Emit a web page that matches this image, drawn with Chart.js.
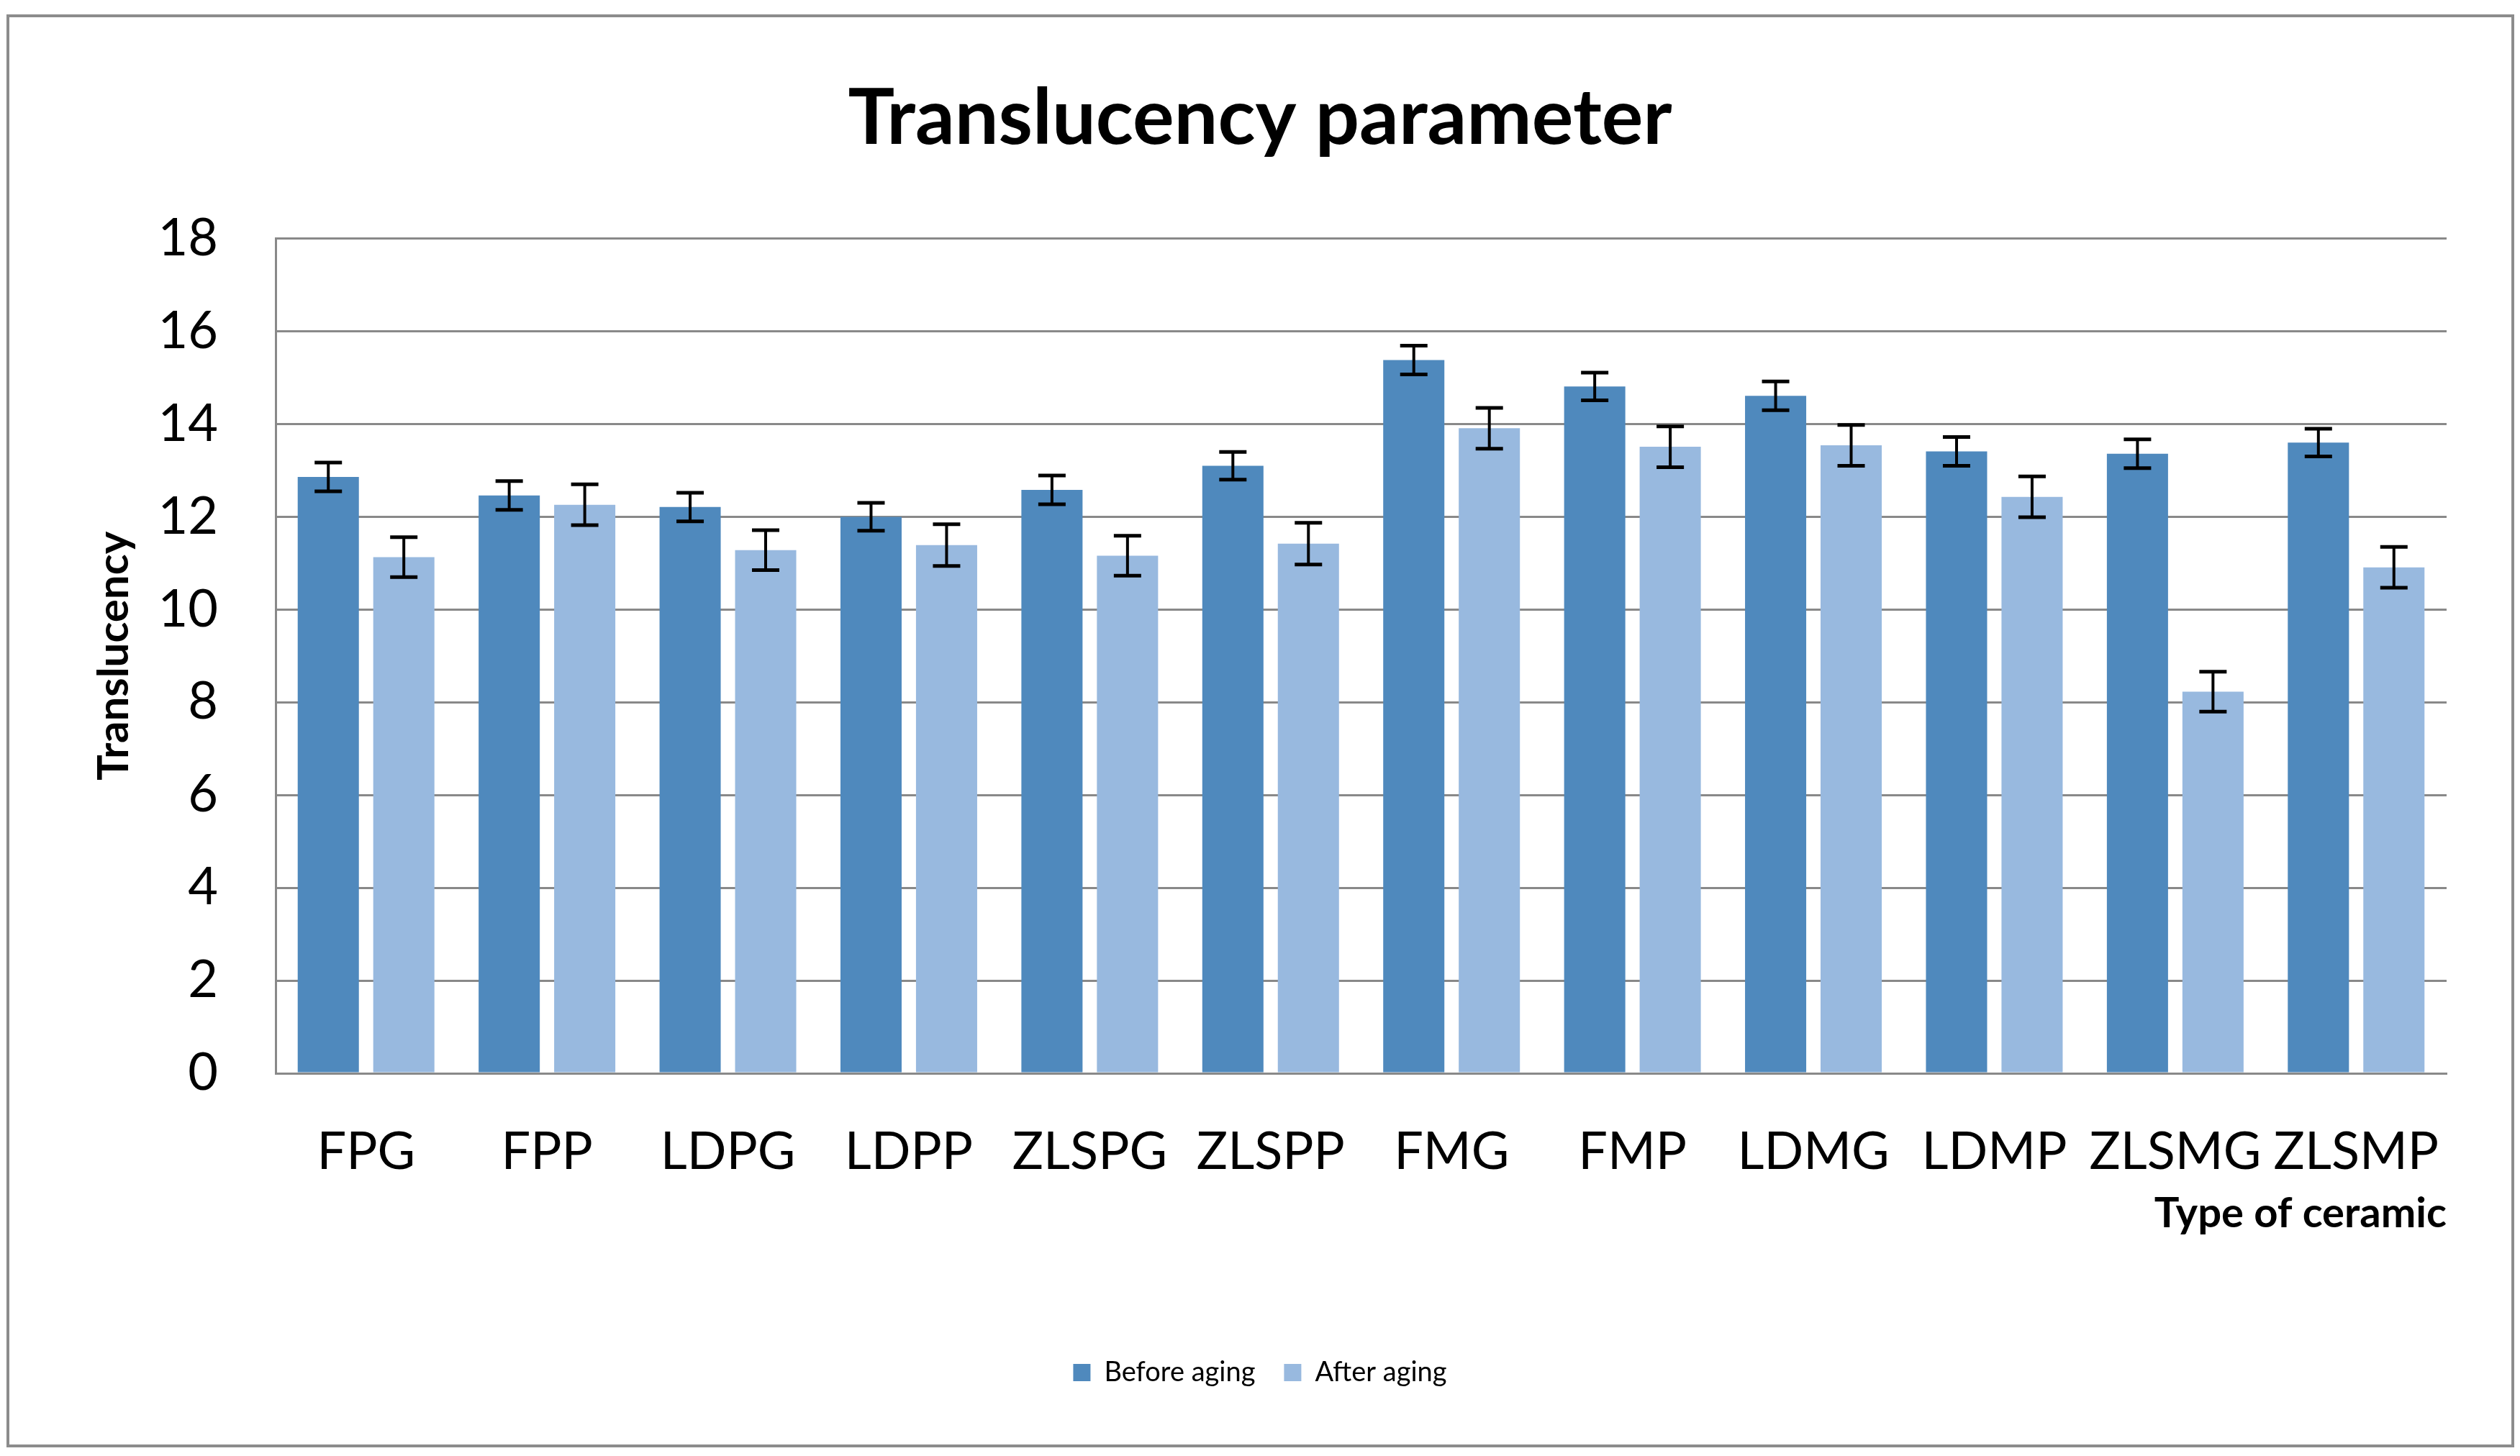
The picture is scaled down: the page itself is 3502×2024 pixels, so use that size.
<!DOCTYPE html>
<html>
<head>
<meta charset="utf-8">
<script src="https://cdn.jsdelivr.net/npm/chart.js@4.4.1/dist/chart.umd.min.js"></script>
<style>
  html, body { margin: 0; padding: 0; background: #ffffff; }
  #wrap { width: 3502px; height: 2024px; }
</style>
</head>
<body>
<div id="wrap"><canvas id="c" width="3502" height="2024"></canvas></div>
<script>
const categories = ["FPG", "FPP", "LDPG", "LDPP", "ZLSPG", "ZLSPP", "FMG", "FMP", "LDMG", "LDMP", "ZLSMG", "ZLSMP"];
const beforeAging = [12.86, 12.46, 12.21, 12.00, 12.58, 13.10, 15.38, 14.81, 14.61, 13.41, 13.36, 13.60];
const afterAging  = [11.13, 12.26, 11.28, 11.39, 11.16, 11.42, 13.91, 13.51, 13.54, 12.43, 8.23, 10.91];
const beforeError = [0.31, 0.31, 0.31, 0.30, 0.31, 0.30, 0.31, 0.30, 0.31, 0.31, 0.31, 0.30];
const afterError  = [0.43, 0.44, 0.43, 0.45, 0.43, 0.45, 0.44, 0.44, 0.44, 0.44, 0.43, 0.44];
const seriesNames = ["Before aging", "After aging"];
const yTicksMin = 0, yTicksMax = 18, yTickStep = 2;

const FONT = "Lato";
const GRID = "#898989";

const errorBarPlugin = {
  id: "errorBars",
  afterDatasetsDraw(chart) {
    const ctx = chart.ctx;
    const yScale = chart.scales.y;
    const errs = [beforeError, afterError];
    ctx.save();
    ctx.strokeStyle = "#000000";
    chart.data.datasets.forEach((ds, di) => {
      const meta = chart.getDatasetMeta(di);
      meta.data.forEach((bar, i) => {
        const v = ds.data[i];
        const e = errs[di][i];
        const yt = yScale.getPixelForValue(v + e);
        const yb = yScale.getPixelForValue(v - e);
        const x = bar.x;
        ctx.lineWidth = 4;
        ctx.beginPath();
        ctx.moveTo(x, yt); ctx.lineTo(x, yb);
        ctx.stroke();
        ctx.lineWidth = 5;
        ctx.beginPath();
        ctx.moveTo(x - 19, yt); ctx.lineTo(x + 19, yt);
        ctx.moveTo(x - 19, yb); ctx.lineTo(x + 19, yb);
        ctx.stroke();
      });
    });
    ctx.restore();
  }
};

const framePlugin = {
  id: "frame",
  beforeDraw(chart) {
    const ctx = chart.ctx;
    ctx.save();
    ctx.fillStyle = "#ffffff";
    ctx.fillRect(0, 0, chart.width, chart.height);
    ctx.strokeStyle = "#8c8c8c";
    ctx.lineWidth = 4;
    ctx.strokeRect(11, 22, 3481, 1988);
    ctx.restore();
  }
};

new Chart(document.getElementById("c"), {
  type: "bar",
  data: {
    labels: categories,
    datasets: [
      { label: seriesNames[0], data: beforeAging, backgroundColor: "#4F89BD", borderWidth: 0,
        categoryPercentage: 0.835, barPercentage: 0.81 },
      { label: seriesNames[1], data: afterAging, backgroundColor: "#98B9DF", borderWidth: 0,
        categoryPercentage: 0.835, barPercentage: 0.81 }
    ]
  },
  options: {
    responsive: false,
    animation: false,
    devicePixelRatio: 1,
    layout: { padding: { left: 102, right: 102, top: 1, bottom: 87 } },
    plugins: {
      title: {
        display: true,
        text: "Translucency parameter",
        color: "#000000",
        font: { family: FONT, size: 108, weight: "bold" },
        padding: { top: 99, bottom: 102 }
      },
      legend: {
        display: true,
        position: "bottom",
        labels: {
          color: "#000000",
          font: { family: FONT, size: 38 },
          boxWidth: 24,
          boxHeight: 24,
          padding: 40
        }
      },
      tooltip: { enabled: false }
    },
    scales: {
      x: {
        grid: { display: false, drawTicks: false },
        border: { display: true, color: GRID, width: 3 },
        ticks: { color: "#000000", font: { family: FONT, size: 72 }, padding: 67, maxRotation: 0, autoSkip: false },
        title: {
          display: true, text: "Type of ceramic", align: "end", color: "#000000",
          font: { family: FONT, size: 58, weight: "bold" },
          padding: { top: 0, bottom: 127 }
        },
        afterFit(scale) { scale.height = 357; }
      },
      y: {
        min: yTicksMin, max: yTicksMax,
        ticks: { stepSize: yTickStep, color: "#000000", font: { family: FONT, size: 72 }, padding: 80 },
        grid: { color: GRID, lineWidth: 3, drawTicks: false },
        border: { display: true, color: GRID, width: 3 },
        title: {
          display: true, text: "Translucency", color: "#000000",
          font: { family: FONT, size: 60, weight: "bold" },
          padding: { top: 21, bottom: 0 }
        },
        afterFit(scale) { scale.width = 281; }
      }
    }
  },
  plugins: [framePlugin, errorBarPlugin]
});
</script>
</body>
</html>
